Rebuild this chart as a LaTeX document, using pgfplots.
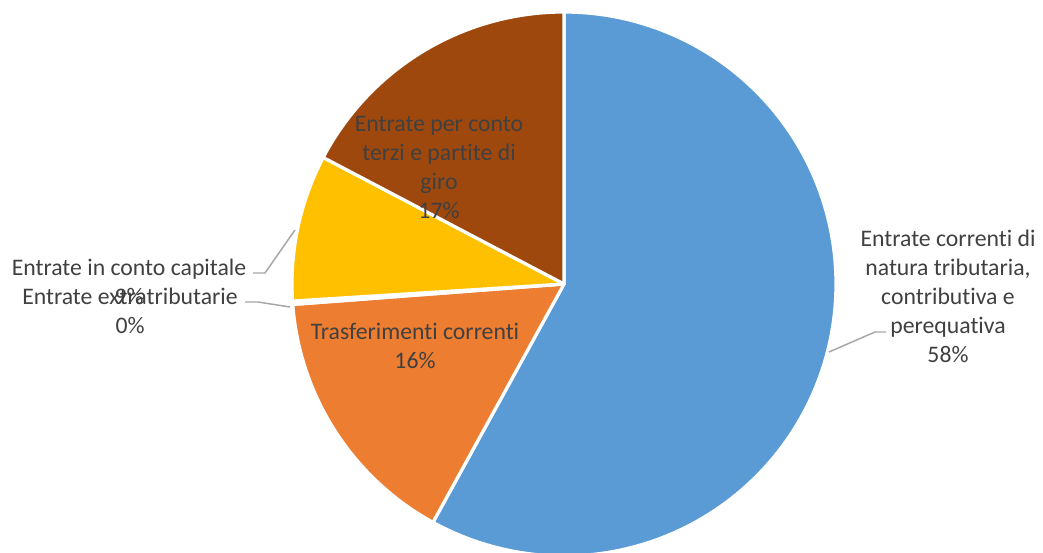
\documentclass[border=0pt]{standalone}
\usepackage{pgfplots}
\pgfplotsset{compat=1.18}
\usepackage{fontspec}
\setmainfont{Carlito}[Ligatures=NoCommon]

\definecolor{cBlue}{HTML}{5B9BD5}
\definecolor{cOrange}{HTML}{ED7D31}
\definecolor{cGray}{HTML}{A5A5A5}
\definecolor{cGold}{HTML}{FFC000}
\definecolor{cBrown}{HTML}{9E480E}
\definecolor{txt}{HTML}{404040}
\definecolor{leader}{HTML}{A6A6A6}

% shares in percent, clockwise from the top
\def\pA{58.0}  % correnti tributaria
\def\pB{15.8}  % trasferimenti correnti
\def\pC{0.2}   % extratributarie
\def\pD{8.7}   % conto capitale
\def\pE{17.3}  % conto terzi e partite di giro

\tikzset{lbl/.style={font=\fontsize{17.8}{21.75}\selectfont, text=txt, align=center, inner sep=0pt}}

\begin{document}
\begin{tikzpicture}
\path[use as bounding box] (0,0) rectangle (782.25pt,414.75pt);
\begin{axis}[
    at={(0,0)}, anchor=south west,
    scale only axis, width=782.25pt, height=414.75pt,
    xmin=0, xmax=1043, ymin=0, ymax=553,
    hide axis,
    clip=false,
    wedge/.style={draw=white, line width=2.4pt, samples=120, variable=\t, line join=round},
  ]
  \pgfmathsetmacro{\aA}{90}
  \pgfmathsetmacro{\aB}{90-3.6*\pA}
  \pgfmathsetmacro{\aC}{\aB-3.6*\pB}
  \pgfmathsetmacro{\aD}{\aC-3.6*\pC}
  \pgfmathsetmacro{\aE}{\aD-3.6*\pD}
  \pgfmathsetmacro{\aF}{\aE-3.6*\pE}

  \addplot[wedge, fill=cBlue, domain=\aA:\aB] ({564+272*cos(\t)},{269+272*sin(\t)}) -- (564,269) -- cycle;
  \addplot[wedge, fill=cOrange, domain=\aB:\aC] ({564+272*cos(\t)},{269+272*sin(\t)}) -- (564,269) -- cycle;
  \addplot[wedge, fill=cGray, domain=\aC:\aD, samples=5] ({564+272*cos(\t)},{269+272*sin(\t)}) -- (564,269) -- cycle;
  \addplot[wedge, fill=cGold, domain=\aD:\aE] ({564+272*cos(\t)},{269+272*sin(\t)}) -- (564,269) -- cycle;
  \addplot[wedge, fill=cBrown, domain=\aE:\aF] ({564+272*cos(\t)},{269+272*sin(\t)}) -- (564,269) -- cycle;

  % leader lines
  \addplot[leader, line width=1.1pt] coordinates {(829,201) (875,221) (886,221)};
  \addplot[leader, line width=1.1pt] coordinates {(253,280) (265,280) (295,323)};
  \addplot[leader, line width=1.1pt] coordinates {(245,251) (258,251) (290,246)};

  % data labels
  \node[lbl] at (axis cs:948,257) {Entrate correnti di\\natura tributaria,\\contributiva e\\perequativa\\58\%};
  \node[lbl] at (axis cs:439,386) {Entrate per conto\\terzi e partite di\\giro\\17\%};
  \node[lbl] at (axis cs:415,207.5) {Trasferimenti correnti\\16\%};
  \node[lbl] at (axis cs:129,271.5) {Entrate in conto capitale\\9\%};
  \node[lbl] at (axis cs:130,242) {Entrate extratributarie\\0\%};
\end{axis}
\end{tikzpicture}
\end{document}
